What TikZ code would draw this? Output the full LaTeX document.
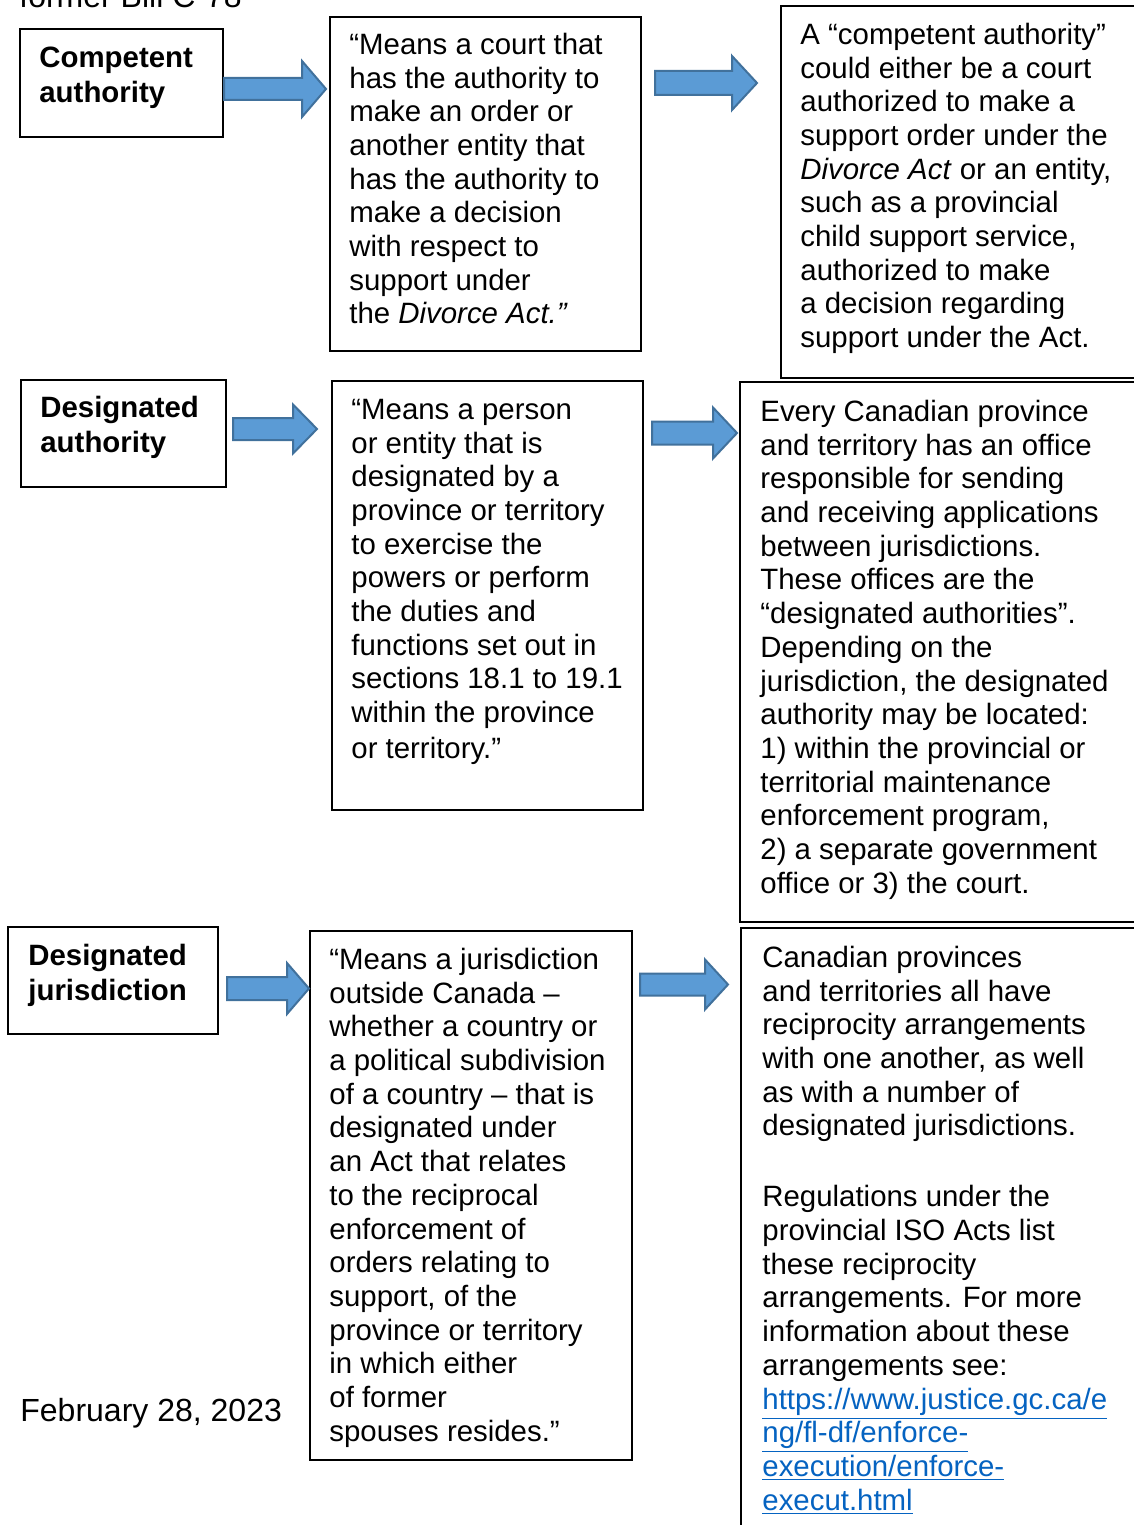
\documentclass[tikz,border=0pt]{standalone}
\usepackage{fontspec}
\setmainfont{Liberation Sans}
\usetikzlibrary{fit}
\definecolor{arrfill}{HTML}{5B9BD5}
\definecolor{arrline}{HTML}{41719C}
\definecolor{linkblue}{HTML}{0563C1}
\newcommand\blockarr[6]{%
  \draw[blockarrow] (#1,#4-#5) -- (#2,#4-#5) -- (#2,#4-#6) -- (#3,#4)
     -- (#2,#4+#6) -- (#2,#4+#5) -- (#1,#4+#5) -- cycle;}
\newcommand\lnk[1]{\textcolor{linkblue}{\underline{#1}}}
\tikzset{
  boxst/.style={draw=black, line width=1pt, inner sep=0pt},
  txt/.style={anchor=north west, inner sep=0pt, align=left,
     font={\fontsize{14.7}{16.85}\selectfont}},
  btxt/.style={txt, font={\fontsize{14.7}{17.5}\selectfont\bfseries}},
  bigtxt/.style={txt, font={\fontsize{16}{18.4}\selectfont}},
  blockarrow/.style={fill=arrfill, draw=arrline, line width=1pt, line join=miter}
}
\begin{document}
\begin{tikzpicture}[x=0.5pt,y=-0.5pt]
\useasboundingbox (0,0) rectangle (1134,1525);
\clip (0,0) rectangle (1134,1525);
\fill[white] (0,0) rectangle (1134,1525);

% header (cut off at the top edge, as in the reference)
\node[bigtxt] (hdr) at (19,-18.5) {\strut former Bill C-78};

% boxes
\node[boxst, fit={(20,29) (223,137)}] (b1) {};
\node[boxst, fit={(330,17) (641,351)}] (b2) {};
\node[boxst, fit={(781,6) (1140,378)}] (b3) {};
\node[boxst, fit={(21,380) (226,487)}] (b4) {};
\node[boxst, fit={(332,381) (643,810)}] (b5) {};
\node[boxst, fit={(740,382) (1140,922)}] (b6) {};
\node[boxst, fit={(8,927) (218,1034)}] (b7) {};
\node[boxst, fit={(310,931) (632,1460)}] (b8) {};
\node[boxst, fit={(741,928) (1140,1540)}] (b9) {};

% texts
\node[btxt] (t1) at (39,42.4) {\strut Competent\\authority};
\node[txt] (t2) at (349,30.4) {\strut “Means a court that\\has the authority to\\make an order or\\another entity that\\has the authority to\\make a decision\\with respect to\\support under\\the \textit{Divorce Act.”}};
\node[txt] (t3) at (800,20.4) {\strut A “competent authority”\\could either be a court\\authorized to make a\\support order under the\\\textit{Divorce Act} or an entity,\\such as a provincial\\child support service,\\authorized to make\\a decision regarding\\support under the Act.};
\node[btxt] (t4) at (40,392.4) {\strut Designated\\authority};
\node[txt] (t5) at (351,395.4) {\strut “Means a person\\or entity that is\\designated by a\\province or territory\\to exercise the\\powers or perform\\the duties and\\functions set out in\\sections 18.1 to 19.1\\within the province\\[1pt]or territory.”};
\node[txt] (t6) at (760,397.4) {\strut Every Canadian province\\and territory has an office\\responsible for sending\\and receiving applications\\between jurisdictions.\\These offices are the\\“designated authorities”.\\Depending on the\\jurisdiction, the designated\\authority may be located:\\1) within the provincial or\\territorial maintenance\\enforcement program,\\2) a separate government\\office or 3) the court.};
\node[btxt] (t7) at (28,940.4) {\strut Designated\\jurisdiction};
\node[txt] (t8) at (329,945.4) {\strut “Means a jurisdiction\\outside Canada –\\whether a country or\\a political subdivision\\of a country – that is\\designated under\\an Act that relates\\to the reciprocal\\enforcement of\\orders relating to\\support, of the\\province or territory\\in which either\\of former\\spouses resides.”};
\node[txt] (t9) at (762,943.4) {\strut Canadian provinces\\and territories all have\\reciprocity arrangements\\with one another, as well\\as with a number of\\designated jurisdictions.\\[18.6pt]Regulations under the\\provincial ISO Acts list\\these reciprocity\\arrangements. For more\\information about these\\arrangements see:\\\lnk{https://www.justice.gc.ca/e}\\\lnk{ng/fl-df/enforce-}\\\lnk{execution/enforce-}\\\lnk{execut.html}};
\node[bigtxt] (date) at (20,1395) {\strut February 28, 2023};

% block arrows
\blockarr{224}{302}{326}{89}{11}{28}
\blockarr{655}{732}{757}{83}{12}{27}
\blockarr{233}{293}{317}{429}{11}{24.5}
\blockarr{652}{713}{737}{433}{11.5}{25.5}
\blockarr{227}{287}{309}{988.5}{11.5}{25.5}
\blockarr{640}{705}{728}{984.5}{11}{25}
\end{tikzpicture}
\end{document}
